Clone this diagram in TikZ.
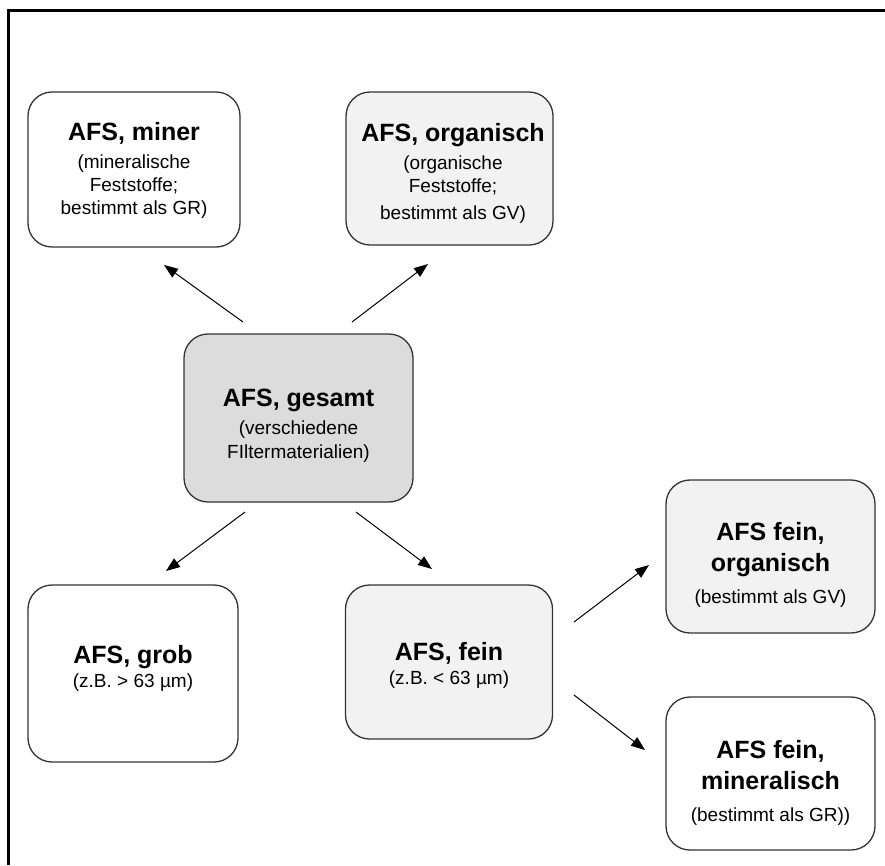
\documentclass[tikz,border=0pt]{standalone}
\usepackage{fontspec}
\setmainfont{Liberation Sans}
\usetikzlibrary{arrows.meta}
\definecolor{boxline}{HTML}{333333}
\definecolor{lightfill}{HTML}{F2F2F2}
\definecolor{darkfill}{HTML}{DCDCDC}
\tikzset{
  box/.style={draw=boxline, line width=1.3pt, rounded corners=24pt, inner sep=0pt},
  txt/.style={align=center, inner sep=0pt, font=\fontsize{19}{23}\selectfont},
  arr/.style={line width=1pt, -{Triangle[length=14pt,width=10.5pt]}},
  frame/.style={line width=2.5pt}
}
\newcommand{\ttl}[1]{{\fontsize{25}{25}\selectfont\bfseries #1}}
\begin{document}
\begin{tikzpicture}[x=1pt,y=-1pt]
\useasboundingbox (0,0) rectangle (885,865);
\coordinate (fa) at (8.5,865);
\coordinate (fb) at (8.5,10.5);
\coordinate (fc) at (885,10.5);
\draw[frame] (fa) -- (fb) -- (fc);

% boxes
\node[box, fill=white, minimum width=212pt, minimum height=155pt] (miner) at (134,169.5) {};
\node[box, fill=lightfill, minimum width=207pt, minimum height=153pt] (org) at (449.5,168.5) {};
\node[box, fill=darkfill, minimum width=229pt, minimum height=168pt] (ges) at (298.5,418) {};
\node[box, fill=white, minimum width=210pt, minimum height=177pt] (grob) at (133,673.5) {};
\node[box, fill=lightfill, minimum width=207pt, minimum height=154pt] (fein) at (449,662) {};
\node[box, fill=lightfill, minimum width=209pt, minimum height=153pt] (forg) at (770.5,556.5) {};
\node[box, fill=white, minimum width=209pt, minimum height=153pt] (fmin) at (770.5,773.5) {};

% texts
\node[txt] (tminer) at (134,170) {\ttl{AFS, miner}\\[5pt](mineralische\\Feststoffe;\\bestimmt als GR)};
\node[txt] (torg) at (453,173) {\ttl{AFS, organisch}\\[5pt](organische\\Feststoffe;\\[4pt]bestimmt als GV)};
\node[txt] (tges) at (298.5,426) {\ttl{AFS, gesamt}\\[5pt](verschiedene\\[1pt]FIltermaterialien)};
\node[txt] (tgrob) at (133,668) {\ttl{AFS, grob}\\[1pt](z.B. > 63 µm)};
\node[txt] (tfein) at (449,665) {\ttl{AFS, fein}\\[1pt](z.B. < 63 µm)};
\node[txt] (tforg) at (770.5,565) {\ttl{AFS fein,}\\[8pt]\ttl{organisch}\\[9pt](bestimmt als GV)};
\node[txt] (tfmin) at (770.5,783) {\ttl{AFS fein,}\\[8pt]\ttl{mineralisch}\\[9pt](bestimmt als GR))};

% arrow end points
\coordinate (a1s) at (243,322); \coordinate (a1e) at (164,265);
\coordinate (a2s) at (352,322); \coordinate (a2e) at (428,264);
\coordinate (a3s) at (245,512); \coordinate (a3e) at (166,571);
\coordinate (a4s) at (356,512); \coordinate (a4e) at (432,569);
\coordinate (a5s) at (574,622); \coordinate (a5e) at (649,565);
\coordinate (a6s) at (574,695); \coordinate (a6e) at (645,750);
\draw[arr] (a1s) -- (a1e);
\draw[arr] (a2s) -- (a2e);
\draw[arr] (a3s) -- (a3e);
\draw[arr] (a4s) -- (a4e);
\draw[arr] (a5s) -- (a5e);
\draw[arr] (a6s) -- (a6e);
\end{tikzpicture}
\end{document}
